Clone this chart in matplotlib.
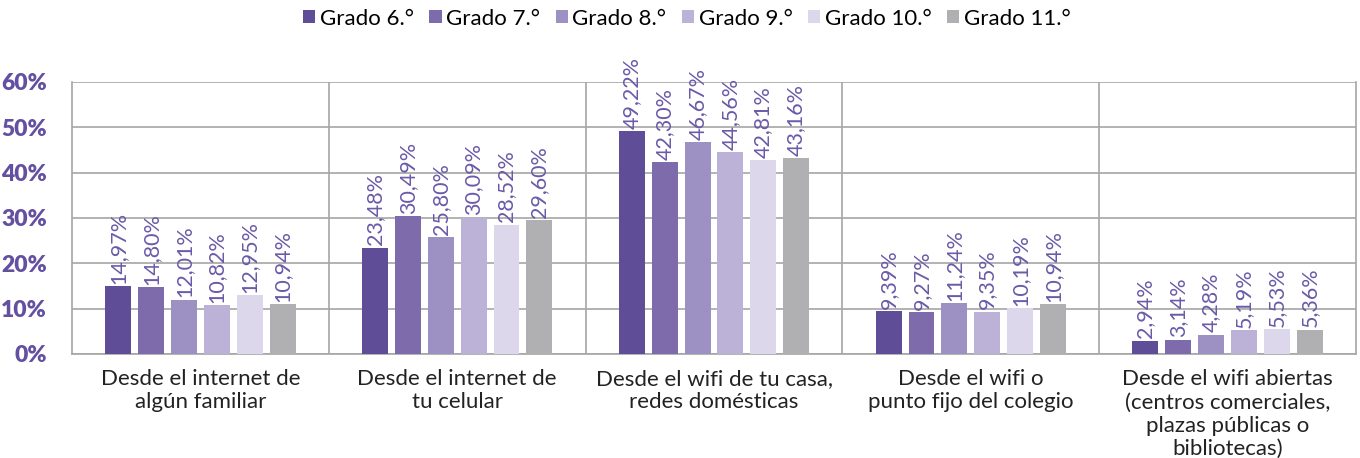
import numpy as np
import matplotlib
matplotlib.use("Agg")
from matplotlib import pyplot as plt

plt.rcParams['font.family'] = ['Lato', 'DejaVu Sans']

categorias = ['Desde el internet de\nalgún familiar',
              'Desde el internet de\ntu celular',
              'Desde el wifi de tu casa,\nredes domésticas',
              'Desde el wifi o\npunto fijo del colegio',
              'Desde el wifi abiertas\n(centros comerciales,\nplazas públicas o\nbibliotecas)']
grados = ['Grado 6.°', 'Grado 7.°', 'Grado 8.°', 'Grado 9.°', 'Grado 10.°', 'Grado 11.°']
valores = [
    [14.97, 23.48, 49.22, 9.39, 2.94],   # 6
    [14.80, 30.49, 42.30, 9.27, 3.14],   # 7
    [12.01, 25.80, 46.67, 11.24, 4.28],  # 8
    [10.82, 30.09, 44.56, 9.35, 5.19],   # 9
    [12.95, 28.52, 42.81, 10.19, 5.53],  # 10
    [10.94, 29.60, 43.16, 10.94, 5.36],  # 11
]
colores = ['#5f4e97', '#7d6bab', '#9d90c2', '#bcb2d8', '#dcd7ea', '#b0b0b2']
yticks = [0, 10, 20, 30, 40, 50, 60]

fig = plt.figure(figsize=(13.6, 4.58), dpi=100)
ax = fig.add_axes([72/1360, 1-354/458, (1356-72)/1360, (354-82)/458])

x = np.arange(len(categorias))
slot = 0.128
ancho = 0.101
for i, (g, vals, c) in enumerate(zip(grados, valores, colores)):
    pos = x + (i - 2.5) * slot
    ax.bar(pos, vals, width=ancho, color=c, label=g, zorder=3)
    for p, v in zip(pos, vals):
        ax.text(p, v + 0.5, f'{v:.2f}%'.replace('.', ','), rotation=90,
                ha='center', va='bottom', color='#6a5aa8', fontsize=15.5)

ax.set_xlim(-0.5, len(categorias) - 0.5)
ax.set_ylim(0, 60)
ax.set_yticks(yticks)
ax.set_yticklabels([f'{t}%' for t in yticks], fontweight='heavy', color='#6450a0', fontsize=16.5)
ax.yaxis.grid(True, color='#a6a6a6', linewidth=1.2, zorder=0)
for b in np.arange(0.5, len(categorias) - 0.5):
    ax.axvline(b, color='#a6a6a6', linewidth=1.2, zorder=0)
ax.set_xticks(x)
ax.set_xticklabels(categorias, fontsize=16, color='#222222', va='top', linespacing=1.2)
ax.tick_params(length=0)
ax.tick_params(axis='x', pad=11)
ax.tick_params(axis='y', pad=18)
for s in ['left', 'right', 'bottom']:
    ax.spines[s].set_color('#a6a6a6')
    ax.spines[s].set_linewidth(1.2)
ax.spines['top'].set_visible(False)

fig.legend(loc='upper center', bbox_to_anchor=(0.505, 1.025), ncol=6, frameon=False,
           fontsize=16, handlelength=0.55, handleheight=0.55, handletextpad=0.2,
           columnspacing=0.7)

fig.savefig('out.png', dpi=100)
